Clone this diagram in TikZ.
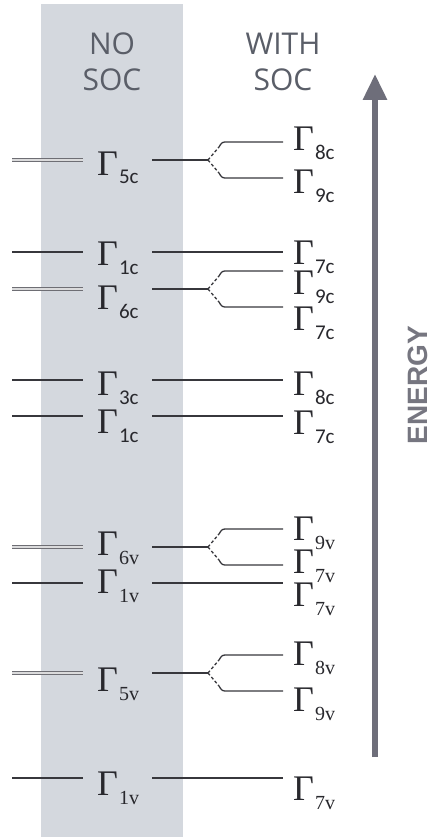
\documentclass[tikz,border=0pt]{standalone}
\usepackage{fontspec}
\setmainfont{Liberation Serif}
\newfontfamily\hfont{Open Sans}
\newfontfamily\efont{Liberation Sans}
\newfontfamily\csubfont{Carlito}
\usetikzlibrary{arrows.meta}
\definecolor{boxgray}{RGB}{212,216,222}
\definecolor{lvlcol}{RGB}{55,55,60}
\definecolor{dblcol}{RGB}{110,110,116}
\definecolor{arrowgray}{RGB}{110,110,122}
\definecolor{txtgray}{RGB}{90,94,104}
\definecolor{energygray}{RGB}{118,118,128}
\definecolor{labcol}{RGB}{40,40,45}
\newcommand\gsym{{\fontsize{36}{36}\selectfont Γ}}
\newcommand\gc[1]{\gsym\kern1pt\raisebox{-9pt}{\csubfont\fontsize{21}{21}\selectfont #1}}
\newcommand\gv[1]{\gsym\kern1pt\raisebox{-9pt}{\fontsize{20}{20}\selectfont #1}}
\tikzset{
  lvl/.style={draw=lvlcol, line width=1.3pt},
  dbllvl/.style={draw=dblcol, line width=1.2pt, double=white!75!dblcol, double distance=1.6pt},
  dashsplit/.style={draw=lvlcol, line width=1.3pt, dash pattern=on 3pt off 2.2pt},
  lab/.style={inner sep=0pt, anchor=base west, text=labcol},
  head/.style={inner sep=0pt, anchor=base, text=txtgray, font=\hfont\fontsize{30}{30}\selectfont}
}
\newcommand\splitbranches[2]{%
  \coordinate (#1-s) at (208,#2);
  \coordinate (#1-ud) at (219,{#2-13});
  \coordinate (#1-uc) at (222,{#2-18});
  \coordinate (#1-ue) at (228,{#2-18});
  \coordinate (#1-ur) at (283,{#2-18});
  \coordinate (#1-dd) at (219,{#2+13});
  \coordinate (#1-dc) at (222,{#2+18});
  \coordinate (#1-de) at (228,{#2+18});
  \coordinate (#1-dr) at (283,{#2+18});
  \draw[lvl] (#1-c) -- (#1-s);
  \draw[dashsplit] (#1-s) -- (#1-ud);
  \draw[dashsplit] (#1-s) -- (#1-dd);
  \draw[lvl] (#1-ud) .. controls (#1-uc) .. (#1-ue) -- (#1-ur);
  \draw[lvl] (#1-dd) .. controls (#1-dc) .. (#1-de) -- (#1-dr);
}
\newcommand\leftlevel[3]{% name, y, style
  \coordinate (#1-a) at (12,#2);
  \coordinate (#1-b) at (83,#2);
  \coordinate (#1-c) at (152,#2);
  \draw[#3] (#1-a) -- (#1-b);
}
\begin{document}
\begin{tikzpicture}[x=1pt,y=-1pt]
\useasboundingbox (0,0) rectangle (433,840);
\fill[boxgray] (41,4) rectangle (183,837);

% headers
\node[head] (hno) at (112,55) {NO};
\node[head] (hsoc1) at (112,91) {SOC};
\node[head] (hwith) at (283,55) {WITH};
\node[head] (hsoc2) at (283,91) {SOC};

% energy arrow
\coordinate (arrbot) at (375,757);
\coordinate (arrtop) at (375,74);
\draw[arrowgray, line width=6pt, -{Triangle[length=26pt,width=23pt]}] (arrbot) -- (arrtop);
\node[inner sep=0pt, rotate=90, text=energygray, font=\efont\bfseries\fontsize{28}{28}\selectfont] (energy) at (418,385) {ENERGY};

% Gamma 5c
\leftlevel{l5c}{160}{dbllvl}
\node[lab] (n5c) at (97,175) {\gc{5c}};
\splitbranches{l5c}{160}
\node[lab] (r8c) at (293,150) {\gc{8c}};
\node[lab] (r9c) at (293,193) {\gc{9c}};

% Gamma 1c (upper)
\leftlevel{l1c}{252}{lvl}
\node[lab] (n1c) at (97,265) {\gc{1c}};
\coordinate (l1c-r) at (283,252);
\draw[lvl] (l1c-c) -- (l1c-r);
\node[lab] (r7c) at (293,264) {\gc{7c}};

% Gamma 6c
\leftlevel{l6c}{289}{dbllvl}
\node[lab] (n6c) at (97,309) {\gc{6c}};
\splitbranches{l6c}{289}
\node[lab] (r9cb) at (293,294) {\gc{9c}};
\node[lab] (r7cb) at (293,330) {\gc{7c}};

% Gamma 3c
\leftlevel{l3c}{380}{lvl}
\node[lab] (n3c) at (97,395) {\gc{3c}};
\coordinate (l3c-r) at (283,380);
\draw[lvl] (l3c-c) -- (l3c-r);
\node[lab] (r8cb) at (293,395) {\gc{8c}};

% Gamma 1c (lower)
\leftlevel{l1cb}{416}{lvl}
\node[lab] (n1cb) at (97,433) {\gc{1c}};
\coordinate (l1cb-r) at (283,416);
\draw[lvl] (l1cb-c) -- (l1cb-r);
\node[lab] (r7cc) at (293,434) {\gc{7c}};

% Gamma 6v
\leftlevel{l6v}{547}{dbllvl}
\node[lab] (n6v) at (97,555) {\gv{6v}};
\splitbranches{l6v}{547}
\node[lab] (r9v) at (293,540) {\gv{9v}};
\node[lab] (r7v) at (293,573) {\gv{7v}};

% Gamma 1v (upper)
\leftlevel{l1v}{583}{lvl}
\node[lab] (n1v) at (97,593) {\gv{1v}};
\coordinate (l1v-r) at (283,583);
\draw[lvl] (l1v-c) -- (l1v-r);
\node[lab] (r7vb) at (293,606) {\gv{7v}};

% Gamma 5v
\leftlevel{l5v}{673}{dbllvl}
\node[lab] (n5v) at (97,691) {\gv{5v}};
\splitbranches{l5v}{673}
\node[lab] (r8v) at (293,665) {\gv{8v}};
\node[lab] (r9vb) at (293,711) {\gv{9v}};

% Gamma 1v (lower)
\leftlevel{l1vb}{778}{lvl}
\node[lab] (n1vb) at (97,795) {\gv{1v}};
\coordinate (l1vb-r) at (283,778);
\draw[lvl] (l1vb-c) -- (l1vb-r);
\node[lab] (r7vc) at (293,800) {\gv{7v}};
\end{tikzpicture}
\end{document}
